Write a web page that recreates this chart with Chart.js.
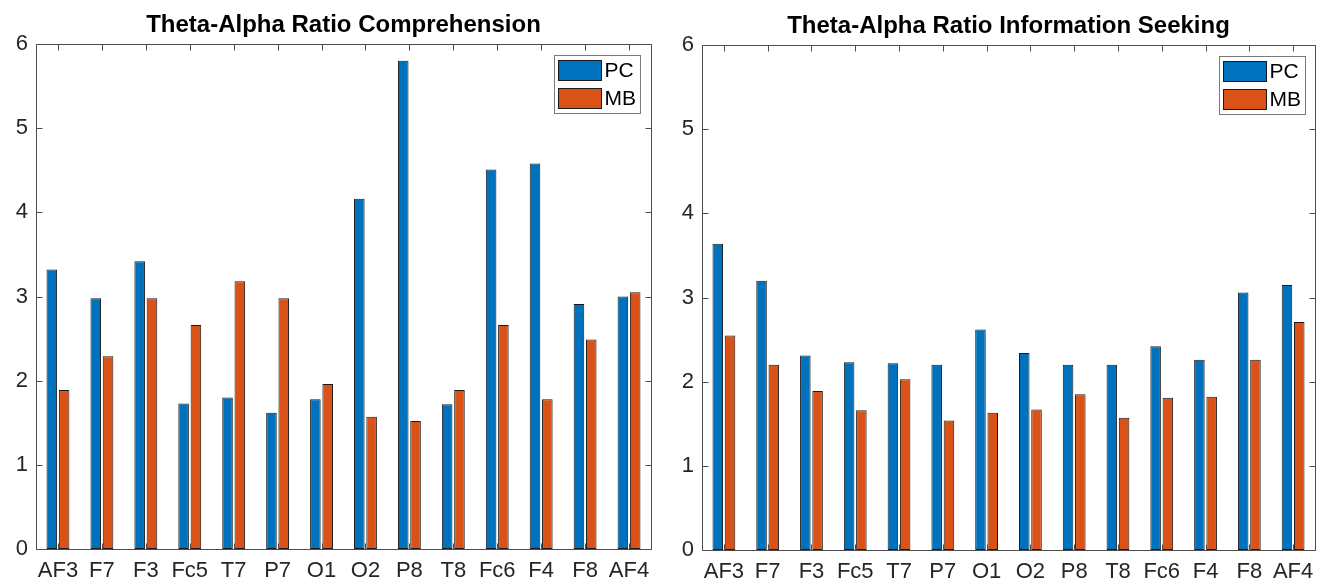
<!DOCTYPE html>
<html>
<head>
<meta charset="utf-8">
<script src="https://cdn.jsdelivr.net/npm/chart.js@4/dist/chart.umd.min.js"></script>
<style>
  html, body { margin: 0; padding: 0; background: #fff; }
  .panel { position: absolute; top: 0; width: 663px; height: 583px; }
</style>
</head>
<body>
<div class="panel" style="left:0"><canvas id="c1" width="663" height="583"></canvas></div>
<div class="panel" style="left:663px"><canvas id="c2" width="663" height="583"></canvas></div>
<script>
const categories = ['AF3','F7','F3','Fc5','T7','P7','O1','O2','P8','T8','Fc6','F4','F8','AF4'];
const seriesNames = ['PC', 'MB'];
const compPC = [3.32, 2.98, 3.42, 1.73, 1.80, 1.62, 1.78, 4.16, 5.80, 1.72, 4.51, 4.58, 2.91, 3.00];
const compMB = [1.89, 2.29, 2.98, 2.66, 3.18, 2.98, 1.96, 1.57, 1.52, 1.89, 2.66, 1.78, 2.49, 3.05];
const seekPC = [3.64, 3.20, 2.31, 2.23, 2.22, 2.20, 2.62, 2.34, 2.20, 2.20, 2.42, 2.26, 3.06, 3.15];
const seekMB = [2.55, 2.20, 1.89, 1.66, 2.03, 1.54, 1.63, 1.67, 1.85, 1.57, 1.81, 1.82, 2.26, 2.71];
const yTicks = [0, 1, 2, 3, 4, 5, 6];
const titles = ['Theta-Alpha Ratio Comprehension', 'Theta-Alpha Ratio Information Seeking'];

const COLORS = ['#0072BD', '#D95319'];
const FONT = '"Liberation Sans", Arial, Helvetica, sans-serif';
const AXIS = '#4d4d4d';

const boxPlugin = {
  id: 'matlabBox',
  afterDraw(chart) {
    const ctx = chart.ctx;
    const a = chart.chartArea;
    const xs = chart.scales.x, ys = chart.scales.y;
    const L = 6;
    ctx.save();
    ctx.strokeStyle = AXIS;
    ctx.lineWidth = 1;
    ctx.beginPath();
    const l = Math.round(a.left) + 0.5, r = Math.round(a.right) + 0.5;
    const t = Math.round(a.top) + 0.5, b = Math.round(a.bottom) + 0.5;
    ctx.rect(l, t, r - l, b - t);
    for (let i = 0; i < categories.length; i++) {
      const x = Math.round(xs.getPixelForValue(i)) + 0.5;
      ctx.moveTo(x, b); ctx.lineTo(x, b - L);
      ctx.moveTo(x, t); ctx.lineTo(x, t + L);
    }
    yTicks.forEach(v => {
      const y = Math.round(ys.getPixelForValue(v)) + 0.5;
      ctx.moveTo(l, y); ctx.lineTo(l + L, y);
      ctx.moveTo(r, y); ctx.lineTo(r - L, y);
    });
    ctx.stroke();

    // legend box
    const lg = chart.options.plugins.matlabBox;
    const bw = 86, bh = 58;
    const bx = Math.round(a.right - lg.right - bw) + 0.5;
    const by = Math.round(a.top + lg.top) + 0.5;
    ctx.fillStyle = '#fff';
    ctx.fillRect(bx, by, bw, bh);
    ctx.strokeStyle = '#7a7a7a';
    ctx.strokeRect(bx, by, bw, bh);
    chart.data.datasets.forEach((ds, i) => {
      const sy = by + 5 + i * 28;
      ctx.fillStyle = ds.backgroundColor;
      ctx.fillRect(bx + 4, sy, 43, 20);
      ctx.strokeStyle = '#1a1a1a';
      ctx.strokeRect(bx + 4, sy, 43, 20);
      ctx.fillStyle = '#000';
      ctx.font = '21px ' + FONT;
      ctx.textBaseline = 'middle';
      ctx.textAlign = 'left';
      ctx.fillText(ds.label, bx + 50, sy + 11);
    });
    ctx.restore();
  }
};

function makeChart(id, title, pc, mb, opts) {
  return new Chart(document.getElementById(id), {
    type: 'bar',
    data: {
      labels: categories,
      datasets: [
        { label: seriesNames[0], data: pc, backgroundColor: COLORS[0], borderColor: '#1a1a1a', borderWidth: 1,
          borderSkipped: false, categoryPercentage: 0.56, barPercentage: 0.86 },
        { label: seriesNames[1], data: mb, backgroundColor: COLORS[1], borderColor: '#1a1a1a', borderWidth: 1,
          borderSkipped: false, categoryPercentage: 0.56, barPercentage: 0.86 }
      ]
    },
    options: {
      responsive: false,
      animation: false,
      layout: { padding: { left: 0, right: opts.padRight, top: 0, bottom: 0 } },
      plugins: {
        legend: { display: false },
        tooltip: { enabled: false },
        title: {
          display: true, text: title, color: '#000', fullSize: false,
          font: { family: FONT, size: 24, weight: 'bold' },
          padding: { top: opts.titleTop, bottom: 4.2 }
        },
        matlabBox: { right: opts.legRight, top: 11 }
      },
      scales: {
        x: {
          grid: { display: false, drawTicks: false },
          border: { display: false },
          ticks: { color: '#262626', font: { family: FONT, size: 22 }, padding: 9, autoSkip: false, maxRotation: 0 },
          afterFit(s) { s.height = opts.xHeight; }
        },
        y: {
          min: 0, max: 6,
          grid: { display: false, drawTicks: false },
          border: { display: false },
          ticks: { stepSize: 1, color: '#262626', font: { family: FONT, size: 22 }, padding: 8 },
          afterFit(s) { s.width = opts.yWidth; }
        }
      }
    },
    plugins: [boxPlugin]
  });
}

makeChart('c1', titles[0], compPC, compMB, { padRight: 12, yWidth: 36, titleTop: 11, legRight: 11, xHeight: 34 });
makeChart('c2', titles[1], seekPC, seekMB, { padRight: 11, yWidth: 39, titleTop: 12, legRight: 10, xHeight: 33 });
</script>
</body>
</html>
